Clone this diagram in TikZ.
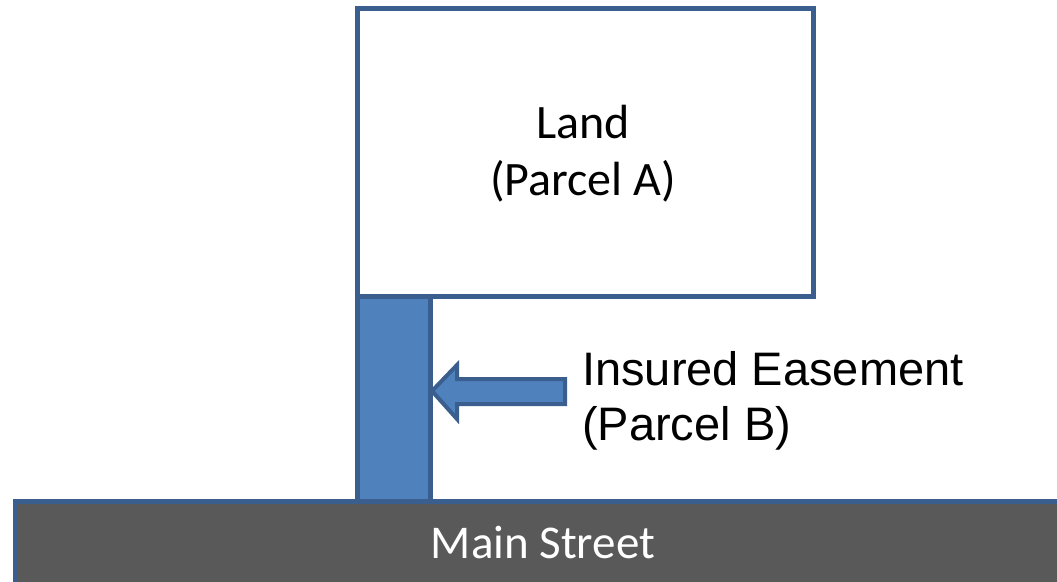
\documentclass[tikz,border=0pt]{standalone}
\usepackage{fontspec}
\setmainfont{Carlito}
\newfontfamily\arialfont{Liberation Sans}
\definecolor{bordblue}{HTML}{3A5F8E}
\definecolor{fillblue}{HTML}{4F81BD}
\definecolor{streetgray}{HTML}{595959}
\begin{document}
\begin{tikzpicture}[x=1pt,y=-1pt,
  parcel/.style={draw=bordblue,line width=4.5pt,inner sep=0pt,anchor=north west},
  label/.style={font=\fontsize{48}{57}\selectfont,align=center}]
\useasboundingbox (0,0) rectangle (1057,581);
% street
\node[parcel,fill=streetgray,minimum width=1060pt,minimum height=90pt] (street) at (13,499) {};
\node[font=\fontsize{47}{57}\selectfont,text=white,anchor=base] (streetlbl) at (543,558) {Main Street};
% land
\node[parcel,fill=white,minimum width=456pt,minimum height=288pt] (land) at (355,6) {};
\node[label,anchor=base] (landlbl) at (583,195) {Land\\(Parcel A)};
% easement
\node[parcel,fill=fillblue,minimum width=73pt,minimum height=205pt] (ease) at (355,294) {};
% arrow
\coordinate (tip) at (432,391);
\draw[bordblue,fill=fillblue,line width=4pt,line join=miter]
  (tip) -- (457,365) -- (457,379) -- (565,379) -- (565,404) -- (457,404) -- (457,419) -- cycle;
\node[font=\arialfont\fontsize{47}{55}\selectfont,align=left,anchor=base west,inner sep=0pt] (easelbl) at (582,440) {Insured Easement\\(Parcel B)};
\end{tikzpicture}
\end{document}
